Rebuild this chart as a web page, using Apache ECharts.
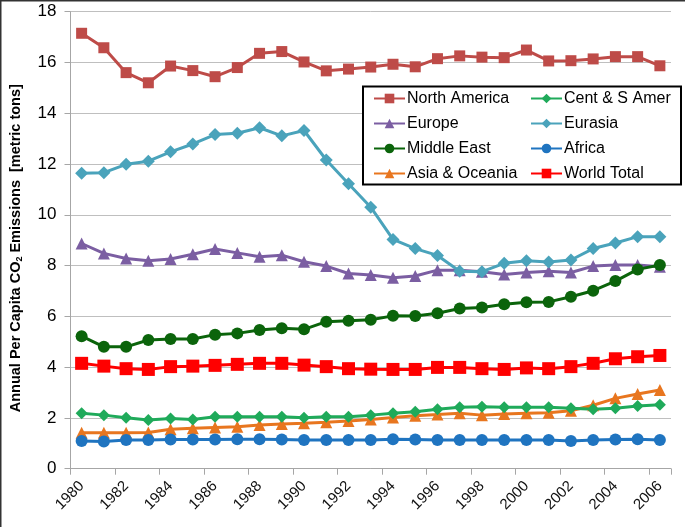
<!DOCTYPE html>
<html>
<head>
<meta charset="utf-8">
<script src="https://cdn.jsdelivr.net/npm/echarts@6/dist/echarts.min.js"></script>
<style>
html,body{margin:0;padding:0;background:#fff;}
#c{width:685px;height:527px;}
</style>
</head>
<body>
<div id="c"></div>
<script>
var years = ['1980','1981','1982','1983','1984','1985','1986','1987','1988','1989','1990','1991','1992','1993','1994','1995','1996','1997','1998','1999','2000','2001','2002','2003','2004','2005','2006'];
var northAmerica = [17.15,16.58,15.60,15.20,15.86,15.68,15.44,15.80,16.36,16.43,16.02,15.67,15.74,15.82,15.93,15.83,16.15,16.26,16.21,16.19,16.49,16.06,16.07,16.14,16.23,16.23,15.87];
var eurasia = [11.64,11.66,11.99,12.11,12.48,12.79,13.16,13.21,13.43,13.11,13.32,12.16,11.22,10.30,9.03,8.67,8.40,7.78,7.76,8.09,8.19,8.14,8.22,8.67,8.89,9.14,9.14];
var europe = [8.87,8.48,8.28,8.19,8.26,8.45,8.65,8.50,8.35,8.41,8.15,7.98,7.69,7.63,7.52,7.59,7.82,7.82,7.76,7.65,7.73,7.78,7.73,7.98,8.02,8.02,7.95];
var middleEast = [5.22,4.80,4.80,5.07,5.11,5.11,5.28,5.33,5.46,5.53,5.49,5.79,5.83,5.87,6.02,6.01,6.12,6.31,6.35,6.48,6.56,6.57,6.77,7.01,7.39,7.85,8.02];
var worldTotal = [4.15,4.04,3.94,3.91,4.02,4.04,4.07,4.11,4.15,4.15,4.08,4.02,3.94,3.92,3.91,3.91,3.99,3.99,3.94,3.91,3.97,3.94,4.02,4.15,4.33,4.41,4.46];
var centSAmer = [2.18,2.11,2.01,1.92,1.98,1.94,2.05,2.05,2.05,2.05,2.01,2.05,2.05,2.11,2.18,2.24,2.34,2.42,2.44,2.42,2.42,2.42,2.38,2.34,2.38,2.47,2.52];
var asiaOceania = [1.42,1.42,1.42,1.43,1.55,1.59,1.62,1.65,1.72,1.76,1.79,1.83,1.88,1.94,2.02,2.09,2.13,2.18,2.11,2.15,2.18,2.20,2.28,2.50,2.77,2.94,3.10];
var africa = [1.09,1.07,1.13,1.13,1.15,1.15,1.15,1.16,1.16,1.15,1.13,1.13,1.13,1.13,1.16,1.15,1.13,1.13,1.13,1.13,1.13,1.13,1.09,1.13,1.15,1.16,1.13];
var yTicks = [0,2,4,6,8,10,12,14,16,18];

var chart = echarts.init(document.getElementById('c'), null, {renderer:'canvas'});
var FONT = '"Liberation Sans", Arial, sans-serif';

function mk(name, data, color, symbol, size) {
  return {
    name: name, type: 'line', data: data,
    symbol: symbol, symbolSize: size,
    lineStyle: {color: color, width: 3},
    itemStyle: {color: color},
    emphasis: {disabled: true},
    animation: false
  };
}

var legendStyle = {
  orient: 'vertical', padding: 0,
  itemWidth: 31, itemHeight: 12, itemGap: 7,
  textStyle: {fontFamily: FONT, fontSize: 16, lineHeight: 18, color: '#000', padding: [0,0,0,-3]},
  selectedMode: false
};

chart.setOption({
  animation: false,
  backgroundColor: '#fff',
  grid: {left: 63, right: 14, top: 11.7, bottom: 58.3, containLabel: false},
  xAxis: {
    type: 'category', data: years, boundaryGap: true,
    axisLine: {lineStyle: {color: '#a6a6a6', width: 1}},
    axisTick: {show: true, interval: 1, length: 6, lineStyle: {color: '#a6a6a6'}},
    axisLabel: {interval: 1, rotate: 45, fontFamily: FONT, fontSize: 15, color: '#111', margin: 15}
  },
  yAxis: {
    type: 'value', min: yTicks[0], max: yTicks[yTicks.length-1], interval: 2,
    name: 'Annual Per Capita CO{sub|2} Emissions  [metric tons]',
    nameLocation: 'middle', nameGap: 46, nameRotate: 90,
    nameTextStyle: {fontFamily: FONT, fontSize: 14.5, fontWeight: 'bold', color: '#000', padding: [0,16,0,0],
      rich: {sub: {fontFamily: FONT, fontSize: 9, fontWeight: 'bold', color: '#000', padding: [9,0,0,0]}}},
    axisLine: {show: true, lineStyle: {color: '#a6a6a6'}},
    axisTick: {show: true, length: 6, lineStyle: {color: '#a6a6a6'}},
    axisLabel: {fontFamily: FONT, fontSize: 17, color: '#000', margin: 14},
    splitLine: {lineStyle: {color: '#bfbfbf', width: 1}}
  },
  legend: [
    Object.assign({left: 373, top: 89.5, z: 5, data: ['North America','Europe','Middle East','Asia & Oceania']}, legendStyle),
    Object.assign({left: 530, top: 89.5, z: 5, data: ['Cent & S Amer','Eurasia','Africa','World Total']}, legendStyle)
  ],
  graphic: [
    {type: 'rect', z: 3, shape: {x: 363, y: 86.5, width: 318, height: 98}, style: {fill: '#fff', stroke: '#000', lineWidth: 2}, silent: true},
    {type: 'polyline', z: 3, shape: {points: [[0.5,527],[0.5,0.5],[685,0.5]]}, style: {stroke: '#333', lineWidth: 2, fill: 'none'}, silent: true}
  ],
  series: [
    mk('North America', northAmerica, '#be4b48', 'rect', 11),
    mk('Europe', europe, '#7b5ea2', 'triangle', 12),
    mk('Middle East', middleEast, '#0b640b', 'circle', 12),
    mk('Asia & Oceania', asiaOceania, '#e8761f', 'triangle', 12),
    mk('Cent & S Amer', centSAmer, '#1faa5a', 'diamond', 12),
    mk('Eurasia', eurasia, '#4aa3bb', 'diamond', 13),
    mk('Africa', africa, '#1f74c0', 'circle', 12),
    mk('World Total', worldTotal, '#ff0000', 'rect', 13)
  ]
});
</script>
</body>
</html>
